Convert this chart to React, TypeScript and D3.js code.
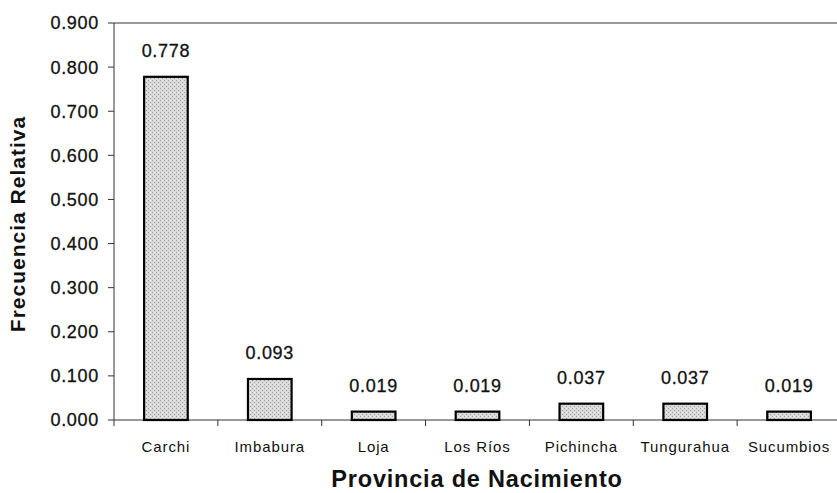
import React from "react";
import * as d3 from "d3";

const categories = ["Carchi", "Imbabura", "Loja", "Los Ríos", "Pichincha", "Tungurahua", "Sucumbios"];
const values = [0.778, 0.093, 0.019, 0.019, 0.037, 0.037, 0.019];
const valueLabels = ["0.778", "0.093", "0.019", "0.019", "0.037", "0.037", "0.019"];
const yTicks = [0, 0.1, 0.2, 0.3, 0.4, 0.5, 0.6, 0.7, 0.8, 0.9];

const W = 837;
const H = 493;
const left = 114;
const right = 841;
const top = 23;
const bottom = 420;

export default function App() {
  const x = d3.scaleBand<string>().domain(categories).range([left, right]).paddingInner(0).paddingOuter(0);
  const y = d3.scaleLinear().domain([0, 0.9]).range([bottom, top]);
  const bw = x.bandwidth() * 0.42;
  const font = "'Liberation Sans', Arial, sans-serif";

  return (
    <svg width={W} height={H} style={{ position: "absolute", left: 0, top: 0, background: "#fff" }} fontFamily={font}>
      <defs>
        <pattern id="dither" width="4" height="4" patternUnits="userSpaceOnUse">
          <rect width="4" height="4" fill="#dadada" />
          <rect x="0" y="0" width="1" height="1" fill="#a0a0a0" />
          <rect x="2" y="2" width="1" height="1" fill="#a0a0a0" />
          <rect x="2" y="0" width="1" height="1" fill="#f0f0f0" />
        </pattern>
      </defs>
      {/* top border */}
      <line x1={left} x2={W} y1={top} y2={top} stroke="#333" strokeWidth={1} />
      {/* y axis */}
      <line x1={left} x2={left} y1={top} y2={bottom} stroke="#333" strokeWidth={1} />
      {yTicks.map((t) => (
        <g key={t}>
          <line x1={left - 6} x2={left} y1={y(t)} y2={y(t)} stroke="#333" />
          <text x={99} y={y(t)} dy="0.36em" textAnchor="end" fontSize={18} letterSpacing={0.7} fill="#111" stroke="#111" strokeWidth={0.3}>
            {t.toFixed(3)}
          </text>
        </g>
      ))}
      {/* x axis */}
      <line x1={left} x2={W} y1={bottom} y2={bottom} stroke="#333" strokeWidth={1} />
      {categories.map((c) => (
        <line key={"t" + c} x1={x(c)!} x2={x(c)!} y1={bottom} y2={bottom + 6} stroke="#333" />
      ))}
      {categories.map((c, i) => {
        const cx = x(c)! + x.bandwidth() / 2;
        return (
          <g key={c}>
            <rect
              x={cx - bw / 2}
              y={y(values[i])}
              width={bw}
              height={bottom - y(values[i])}
              fill="url(#dither)"
              stroke="#000"
              strokeWidth={2.2}
            />
            <text x={cx} y={y(values[i]) - 19.5} textAnchor="middle" fontSize={18} letterSpacing={0.7} fill="#111" stroke="#111" strokeWidth={0.3}>
              {valueLabels[i]}
            </text>
            <text x={cx} y={452} textAnchor="middle" fontSize={15} letterSpacing={0.9} fill="#111">
              {c}
            </text>
          </g>
        );
      })}
      <text x={477} y={487} textAnchor="middle" fontSize={23.5} fontWeight="bold" fill="#111" letterSpacing={0.8}>
        Provincia de Nacimiento
      </text>
      <text
        transform={`translate(25, 224) rotate(-90)`}
        textAnchor="middle"
        fontSize={21}
        fontWeight="bold"
        fill="#111"
        letterSpacing={1}
      >
        Frecuencia Relativa
      </text>
    </svg>
  );
}
